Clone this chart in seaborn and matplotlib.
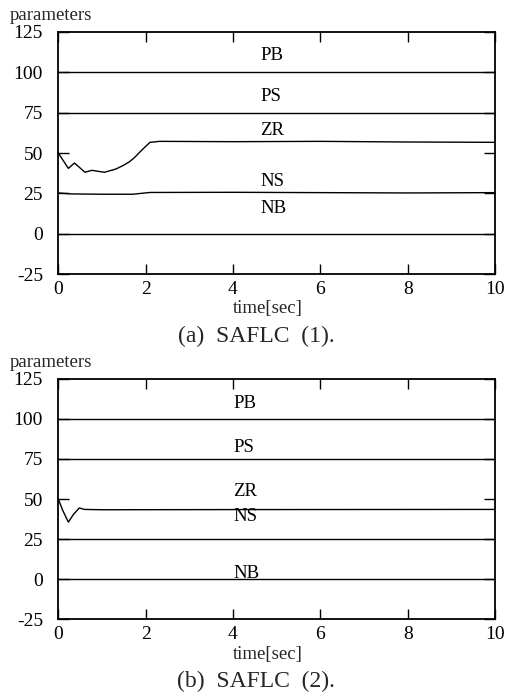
import numpy as np
import pandas as pd
import matplotlib
matplotlib.use("Agg")
import matplotlib.pyplot as plt
import seaborn as sns

# ---------------- data ----------------
x_ticks = [0, 2, 4, 6, 8, 10]
y_ticks = [-25, 0, 25, 50, 75, 100, 125]

# constant membership-centre lines (same in both panels)
flat_t = [0, 10]
pb_vals = [100, 100]
ps_vals = [75, 75]
nb_vals = [0, 0]

# panel (a) SAFLC (1)
zr1_t = [0, 0.23, 0.37, 0.61, 0.77, 0.9, 1.06, 1.32, 1.5, 1.63, 1.75, 1.86, 1.95, 2.1, 2.32, 4, 6, 8, 10]
zr1_v = [50, 40.5, 43.8, 38.1, 39.3, 38.7, 38.1, 40.1, 42.5, 44.6, 47.3, 50.4, 52.8, 56.6, 57.2, 57.0, 57.2, 56.8, 56.6]
ns1_t = [0, 0.3, 1.0, 1.7, 2.1, 4, 6, 8, 10]
ns1_v = [25.3, 24.7, 24.5, 24.5, 25.6, 25.7, 25.5, 25.3, 25.5]

# panel (b) SAFLC (2)
zr2_t = [0, 0.1, 0.23, 0.35, 0.48, 0.6, 1, 4, 10]
zr2_v = [50, 43, 35.6, 40.5, 44.4, 43.5, 43.3, 43.4, 43.5]
ns2_t = [0, 10]
ns2_v = [25, 25]

labels = ["PB", "PS", "ZR", "NS", "NB"]
label_y1 = [110, 84.8, 64.2, 32.2, 15.8]
label_y2 = [109.7, 82.2, 54.5, 39.4, 3.7]
label_x1 = 4.62
label_x2 = 4.0

captions = ["(a)  SAFLC  (1).", "(b)  SAFLC  (2)."]

# ---------------- style ----------------
sns.set_style("ticks")
plt.rcParams['font.family'] = ['Liberation Serif', 'DejaVu Serif']
plt.rcParams['axes.unicode_minus'] = False
plt.rcParams['mathtext.fontset'] = 'stix'

fig = plt.figure(figsize=(5.05, 6.99), dpi=100)
W, H = 505, 699
axA = fig.add_axes([58.3 / W, 1 - 274.3 / H, (495 - 58.3) / W, (274.3 - 31.7) / H])
axB = fig.add_axes([58.3 / W, 1 - 619.3 / H, (495 - 58.3) / W, (619.3 - 378.7) / H])


def draw(ax, zr_t, zr_v, ns_t, ns_v, lab_x, lab_y):
    series = [(flat_t, pb_vals), (flat_t, ps_vals), (zr_t, zr_v), (ns_t, ns_v), (flat_t, nb_vals)]
    for t, v in series:
        sns.lineplot(x=t, y=v, ax=ax, color="black", linewidth=1.0, estimator=None, sort=False)
    for name, yv in zip(labels, lab_y):
        ax.text(lab_x, yv, name, ha="left", va="center", fontsize=13.5, color="black")
    ax.set_xlim(0, 10)
    ax.set_ylim(-25, 125)
    ax.set_xticks(x_ticks)
    ax.set_yticks(y_ticks)
    ax.set_xticklabels([str(v) for v in x_ticks])
    ax.set_yticklabels([str(v) for v in y_ticks])
    ax.tick_params(axis="x", direction="in", top=True, bottom=True, length=7, width=1.0,
                   labelsize=14, pad=5, colors="black")
    ax.tick_params(axis="y", direction="in", left=True, right=True, length=8, width=1.0,
                   labelsize=14, pad=11, colors="black")
    for s in ax.spines.values():
        s.set_visible(True)
        s.set_color("black")
        s.set_linewidth(1.3)
    ax.set_xlabel("")
    ax.set_ylabel("")


draw(axA, zr1_t, zr1_v, ns1_t, ns1_v, label_x1, label_y1)
draw(axB, zr2_t, zr2_v, ns2_t, ns2_v, label_x2, label_y2)

# y-axis title "parameters"
fig.text(10 / W, 1 - 15 / H, "parameters", ha="left", va="center", fontsize=13.5)
fig.text(10 / W, 1 - 363 / H, "parameters", ha="left", va="center", fontsize=13.5)
# x-axis titles
fig.text(268 / W, 1 - 308 / H, "time[sec]", ha="center", va="center", fontsize=13.5)
fig.text(268 / W, 1 - 655 / H, "time[sec]", ha="center", va="center", fontsize=13.5)
# captions
fig.text(256 / W, 1 - 336.7 / H, captions[0], ha="center", va="center", fontsize=17)
fig.text(256 / W, 1 - 681.7 / H, captions[1], ha="center", va="center", fontsize=17)

fig.savefig("out.png", dpi=100, facecolor="white")
